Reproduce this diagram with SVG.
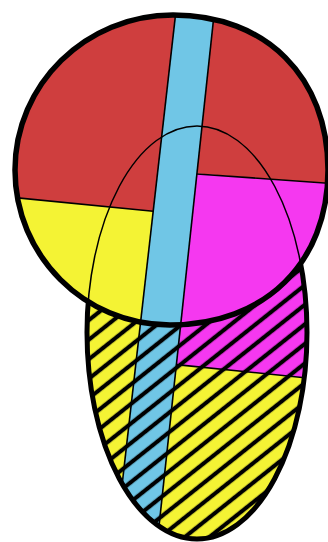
<svg xmlns="http://www.w3.org/2000/svg" xmlns:xlink="http://www.w3.org/1999/xlink" width="328" height="542" viewBox="0 0 328 542">
<style>
.thin{fill:none;stroke:#000;stroke-width:1.6;stroke-linejoin:round}
.red{fill:#CF3E3E}.blue{fill:#70C6E6}.yel{fill:#F4F334}.mag{fill:#F538F0}
</style>
<defs>
<path id="circ" d="M173,15 C266,15 328,77 328,170 C328,263 264.8,325 170,325 C84.4,325 15,255.6 15,170 C15,84.4 85.7,15 173,15 Z"/>
<ellipse id="ell" cx="197" cy="332.5" rx="110" ry="206.5"/>
<clipPath id="union"><use xlink:href="#circ"/><use xlink:href="#ell"/></clipPath>
<mask id="outside" maskUnits="userSpaceOnUse" x="0" y="0" width="328" height="542">
<rect x="0" y="0" width="328" height="542" fill="#fff"/>
<use xlink:href="#circ" fill="#000"/>
</mask>
<mask id="hatchArea" maskUnits="userSpaceOnUse" x="0" y="0" width="328" height="542">
<use xlink:href="#ell" fill="#fff"/>
<use xlink:href="#circ" fill="#000"/>
</mask>
<pattern id="hatch" patternUnits="userSpaceOnUse" width="50" height="15.3" patternTransform="translate(143,453) rotate(-38.5)">
<rect x="0" y="0" width="50" height="2.1" fill="#000"/>
<rect x="0" y="13.2" width="50" height="2.1" fill="#000"/>
</pattern>
</defs>
<g id="regions" clip-path="url(#union)">
<rect class="yel" x="0" y="0" width="328" height="542"/>
<polygon class="red" points="0,0 330,0 330,183.4 185,172.6 165,212.4 0,196.2"/>
<polygon class="mag" points="185,172.6 330,183.4 330,380.3 170,364"/>
<polygon class="blue" points="177.2,0 215.6,0 157.3,542 115.6,542"/>
<line class="thin" x1="177.2" y1="0" x2="115.6" y2="542"/>
<line class="thin" x1="215.6" y1="0" x2="157.3" y2="542"/>
<line class="thin" x1="0" y1="196.2" x2="153.2" y2="211.2"/>
<line class="thin" x1="196.9" y1="174" x2="330" y2="183.4"/>
<line class="thin" x1="176.4" y1="364.6" x2="330" y2="380.3"/>
</g>
<g id="hatching" mask="url(#hatchArea)">
<rect x="0" y="0" width="328" height="542" fill="url(#hatch)"/>
</g>
<g id="outlines">
<use xlink:href="#ell" class="thin" style="stroke-width:1.5"/>
<use xlink:href="#ell" fill="none" stroke="#000" stroke-width="5" mask="url(#outside)"/>
<use xlink:href="#circ" fill="none" stroke="#000" stroke-width="5.5"/>
</g>
</svg>
